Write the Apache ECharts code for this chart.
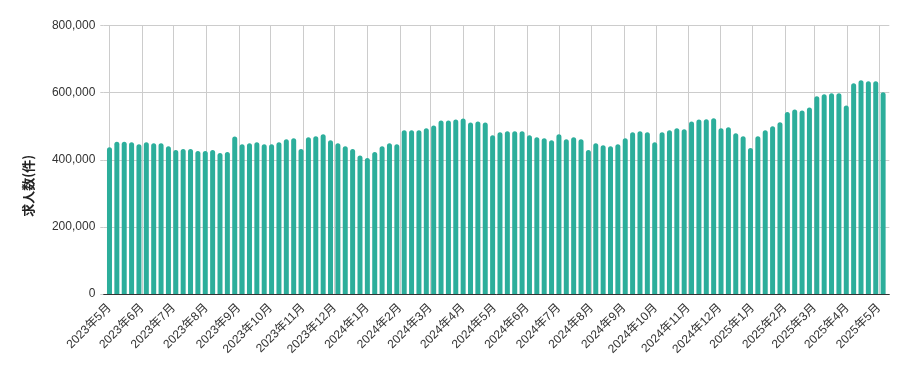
<!DOCTYPE html>
<html>
<head>
<meta charset="utf-8">
<script src="https://cdn.jsdelivr.net/npm/echarts@6/dist/echarts.min.js"></script>
<style>
html,body{margin:0;padding:0;background:#fff;}
#chart{width:909px;height:371px;}
</style>
</head>
<body>
<div id="chart"></div>
<script>
// Weekly dates (Mondays)
const weeks = [
  '2023-05-01','2023-05-08','2023-05-15','2023-05-22','2023-05-29','2023-06-05','2023-06-12','2023-06-19','2023-06-26',
  '2023-07-03','2023-07-10','2023-07-17','2023-07-24','2023-07-31','2023-08-07','2023-08-14','2023-08-21','2023-08-28',
  '2023-09-04','2023-09-11','2023-09-18','2023-09-25','2023-10-02','2023-10-09','2023-10-16','2023-10-23','2023-10-30',
  '2023-11-06','2023-11-13','2023-11-20','2023-11-27','2023-12-04','2023-12-11','2023-12-18','2023-12-25',
  '2024-01-01','2024-01-08','2024-01-15','2024-01-22','2024-01-29','2024-02-05','2024-02-12','2024-02-19','2024-02-26',
  '2024-03-04','2024-03-11','2024-03-18','2024-03-25','2024-04-01','2024-04-08','2024-04-15','2024-04-22','2024-04-29',
  '2024-05-06','2024-05-13','2024-05-20','2024-05-27','2024-06-03','2024-06-10','2024-06-17','2024-06-24',
  '2024-07-01','2024-07-08','2024-07-15','2024-07-22','2024-07-29','2024-08-05','2024-08-12','2024-08-19','2024-08-26',
  '2024-09-02','2024-09-09','2024-09-16','2024-09-23','2024-09-30','2024-10-07','2024-10-14','2024-10-21','2024-10-28',
  '2024-11-04','2024-11-11','2024-11-18','2024-11-25','2024-12-02','2024-12-09','2024-12-16','2024-12-23','2024-12-30',
  '2025-01-06','2025-01-13','2025-01-20','2025-01-27','2025-02-03','2025-02-10','2025-02-17','2025-02-24',
  '2025-03-03','2025-03-10','2025-03-17','2025-03-24','2025-03-31','2025-04-07','2025-04-14','2025-04-21','2025-04-28',
  '2025-05-05'
];

// 求人数 (件)
const jobCounts = [
  437000,454000,454000,452000,446000,452000,449000,449000,440000,429000,432000,432000,426000,426000,429000,420000,423000,469000,
  446000,449000,452000,446000,446000,452000,461000,464000,432000,
  467000,470000,476000,458000,449000,440000,432000,413000,405000,423000,440000,449000,446000,488000,488000,488000,494000,502000,
  517000,517000,520000,523000,511000,514000,511000,473000,482000,
  485000,485000,485000,473000,467000,464000,458000,476000,461000,467000,461000,429000,449000,443000,440000,446000,464000,482000,
  485000,482000,452000,482000,488000,494000,491000,514000,520000,
  521000,524000,494000,497000,479000,470000,435000,470000,488000,500000,512000,542000,550000,547000,556000,589000,595000,598000,
  598000,562000,628000,637000,634000,634000,601000
];

const yTicks = [0, 200000, 400000, 600000, 800000];
const axisStart = '2023-04-27 12:00';
const axisEnd = '2025-05-08 12:00';
const yName = '求人数(件)';

const fontFam = 'Arial, "Liberation Sans", "Noto Sans CJK JP", sans-serif';
const chart = echarts.init(document.getElementById('chart'), null, {renderer: 'canvas'});
const DAY = 86400000;

chart.setOption({
  animation: false,
  grid: {left: 103.3, right: 19.7, top: 25.5, bottom: 77, containLabel: false},
  xAxis: {
    type: 'time',
    min: axisStart,
    max: axisEnd,
    minInterval: 28 * DAY,
    maxInterval: 31 * DAY,
    splitNumber: 25,
    axisLine: {show: true, lineStyle: {color: '#333', width: 1}},
    axisTick: {show: false},
    splitLine: {show: true, showMinLine: false, showMaxLine: false, lineStyle: {color: '#cccccc', width: 1}},
    axisLabel: {
      rotate: 45,
      margin: 12,
      color: '#333',
      fontSize: 12,
      fontFamily: fontFam,
      showMinLabel: false,
      showMaxLabel: false,
      hideOverlap: false,
      formatter: function (v) {
        const d = new Date(v);
        if (d.getDate() !== 1 || d.getHours() !== 0) return '';
        return d.getFullYear() + '年' + (d.getMonth() + 1) + '月';
      }
    }
  },
  yAxis: {
    type: 'value',
    min: yTicks[0],
    max: yTicks[yTicks.length - 1],
    interval: yTicks[1] - yTicks[0],
    name: yName,
    nameLocation: 'middle',
    nameRotate: 90,
    nameGap: 69,
    nameTextStyle: {fontWeight: 'bold', fontSize: 13, color: '#222', fontFamily: '"Noto Sans CJK JP", sans-serif', padding: [0, 52, 0, 0]},
    axisLine: {show: false},
    axisTick: {show: true, length: 3, lineStyle: {color: '#cccccc'}},
    splitLine: {show: true, lineStyle: {color: '#cccccc', width: 1}},
    axisLabel: {
      margin: 8,
      color: '#333',
      fontSize: 12,
      fontFamily: fontFam,
      formatter: function (v) { return v.toLocaleString('en-US'); }
    }
  },
  series: [{
    type: 'bar',
    barWidth: 5,
    itemStyle: {color: '#2cae9b', borderRadius: [2.5, 2.5, 0, 0]},
    data: weeks.map((w, i) => [w, jobCounts[i]])
  }]
});
</script>
</body>
</html>
